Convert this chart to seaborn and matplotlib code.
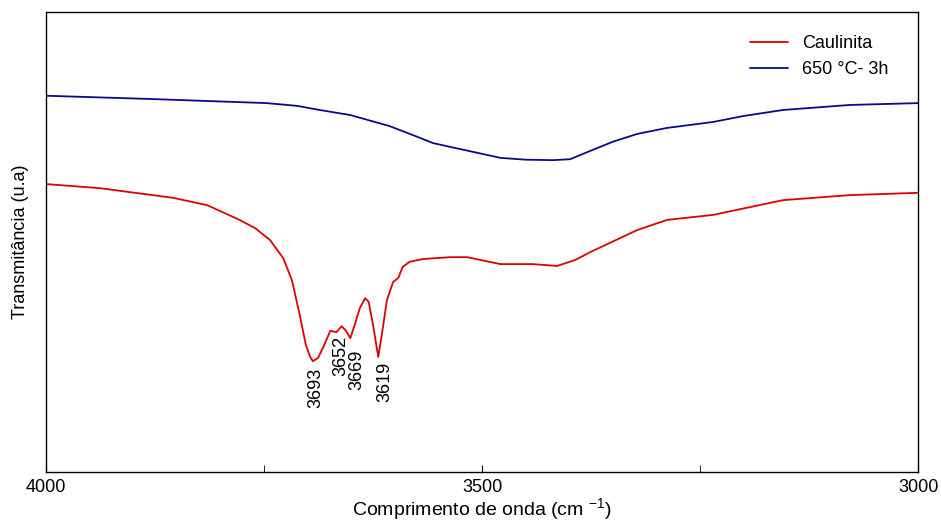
import numpy as np
import pandas as pd
import seaborn as sns
import matplotlib.pyplot as plt
from matplotlib.ticker import FixedLocator

onda_caul = [4000, 3938, 3854, 3815, 3778, 3760, 3743, 3728, 3718, 3709, 3702, 3697,
             3694, 3688, 3681, 3674, 3667, 3661, 3656, 3651, 3646, 3640, 3634, 3630,
             3625, 3619, 3615, 3609, 3602, 3596, 3591, 3583, 3568, 3537, 3517, 3479,
             3442, 3414, 3393, 3376, 3322, 3288, 3235, 3155, 3078, 3000]
trans_caul = [62.6, 61.7, 59.6, 58.0, 54.8, 53.0, 50.4, 46.5, 41.7, 34.1, 27.6, 25.0,
              24.1, 24.8, 27.6, 30.7, 30.4, 31.7, 30.7, 29.1, 32.0, 35.7, 37.8, 37.0,
              32.0, 25.0, 29.8, 37.4, 41.3, 42.2, 44.6, 45.7, 46.3, 46.7, 46.7, 45.2,
              45.2, 44.8, 46.1, 47.8, 52.6, 54.8, 55.9, 59.1, 60.2, 60.7]

onda_650 = [4000, 3881, 3747, 3712, 3686, 3651, 3606, 3580, 3556, 3537, 3479, 3450,
            3419, 3399, 3376, 3350, 3322, 3288, 3235, 3200, 3155, 3078, 3000]
trans_650 = [81.8, 81.1, 80.2, 79.6, 78.7, 77.6, 75.2, 73.3, 71.5, 70.7, 68.3, 67.9,
             67.8, 68.0, 69.8, 71.8, 73.5, 74.8, 76.1, 77.4, 78.7, 79.8, 80.2]

picos = ['3693', '3652', '3669', '3619']
picos_x = [3691, 3662, 3643, 3611]
picos_y = [22.6, 29.6, 26.7, 23.9]

df = pd.concat([
    pd.DataFrame({'onda': onda_caul, 'T': trans_caul, 'amostra': 'Caulinita'}),
    pd.DataFrame({'onda': onda_650, 'T': trans_650, 'amostra': '650 °C- 3h'}),
])

sns.set_style('ticks')
plt.rcParams['font.family'] = ['Liberation Sans', 'DejaVu Sans']
plt.rcParams['mathtext.fontset'] = 'custom'
plt.rcParams['mathtext.rm'] = 'Liberation Sans'
plt.rcParams['text.color'] = 'black'
plt.rcParams['axes.labelcolor'] = 'black'
plt.rcParams['xtick.color'] = 'black'

fig = plt.figure(figsize=(9.41, 5.23), dpi=100)
ax = fig.add_axes([0.0489, 0.0975, 0.9267, 0.8795])

sns.lineplot(data=df, x='onda', y='T', hue='amostra', sort=False, estimator=None,
             palette={'Caulinita': '#dd0000', '650 °C- 3h': '#0a0a8a'},
             linewidth=1.3, ax=ax)

for lab, px, py in zip(picos, picos_x, picos_y):
    ax.text(px, py, lab, rotation=90, ha='center', va='top', fontsize=13)

ax.set_xlim(4000, 3000)
ax.set_ylim(0, 100)
ax.xaxis.set_major_locator(FixedLocator([4000, 3500, 3000]))
ax.xaxis.set_minor_locator(FixedLocator([3750, 3250]))
ax.tick_params(axis='x', which='both', direction='in', length=5, labelsize=13, pad=5)
ax.set_yticks([])
for s in ax.spines.values():
    s.set_linewidth(1.0)
    s.set_color('black')

ax.set_xlabel('Comprimento de onda (cm $^{-1}$)', fontsize=14, labelpad=0)
ax.set_ylabel('Transmitância (u.a)', fontsize=13, labelpad=12)

leg = ax.legend(loc='upper right', frameon=False, fontsize=13,
                bbox_to_anchor=(0.985, 0.985), handlelength=2.1)

fig.savefig('out.png', dpi=100)
